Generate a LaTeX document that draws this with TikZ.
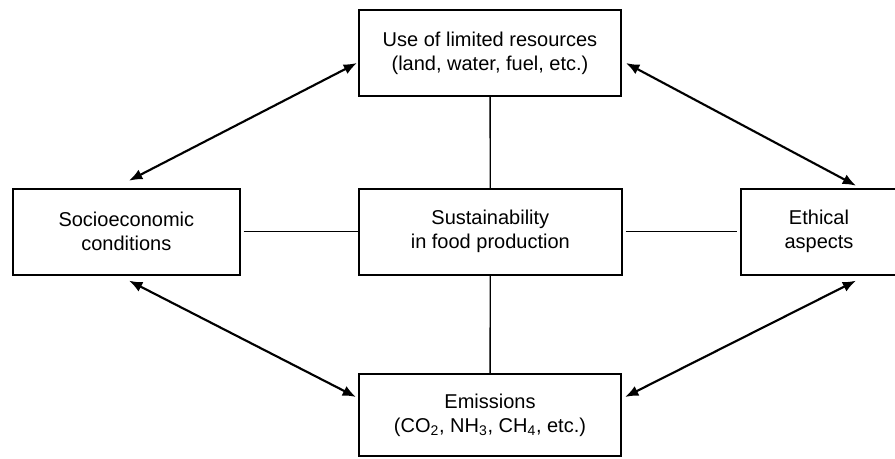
\documentclass[tikz,border=0pt]{standalone}
\usepackage{fontspec}
\setmainfont{Liberation Sans}
\usepackage{tikz}
\usetikzlibrary{arrows.meta,calc,matrix}

\begin{document}
\begin{tikzpicture}[x=0.75pt,y=-0.75pt,
font=\fontsize{15}{18}\selectfont,
box/.style={
draw,line width=1.5pt,align=center,inner sep=0pt,minimum height=64.5pt},
link/.style={line width=1pt},
twoway/.style={line width=1.6pt,
{Latex[length=10pt,width=8pt]}-{Latex[length=10pt,width=8pt]}}]
\useasboundingbox (0,0) rectangle (895,458);
\matrix[column sep=88pt,row sep=68pt,inner sep=0pt,outer sep=0pt,
anchor=north west] at (12,9)
{
    & \node [box,minimum width=196.5pt] (res) {Use of limited resources\\(land, water, fuel, etc.)}; & \\
\node [box,minimum width=170pt] (socio) {Socioeconomic\\conditions}; & \node [box,minimum width=197pt] (sust) {Sustainability\\in food production}; & \node [box,minimum width=117pt] (ethic) {Ethical\\aspects}; \\[4.75pt]
    & \node [box,minimum width=196.5pt,minimum height=62pt] (emis) {Emissions\\(CO\textsubscript{2}, NH\textsubscript{3}, CH\textsubscript{4}, etc.)}; & \\
};
\draw[link] (res) -- (sust);
\draw[link,shorten <=3pt] (socio) -- (sust);
\draw[link,shorten <=3pt,shorten >=3pt] (sust) -- (ethic);
\draw[link] (sust) -- (emis);
\draw[twoway] ($(socio.north)+(2pt,6pt)$) -- ($(res.west)+(-1.5pt,-7.5pt)$);
\draw[twoway] ($(res.east)+(3.75pt,-7.5pt)$) -- ($(ethic.north)+(27.75pt,2.25pt)$);
\draw[twoway] ($(ethic.south)+(27.75pt,-4.5pt)$) -- ($(emis.east)+(3pt,13.5pt)$);
\draw[twoway] ($(socio.south)+(2pt,-4.5pt)$) -- ($(emis.west)+(-2.25pt,13.5pt)$);
\end{tikzpicture}
\end{document}
